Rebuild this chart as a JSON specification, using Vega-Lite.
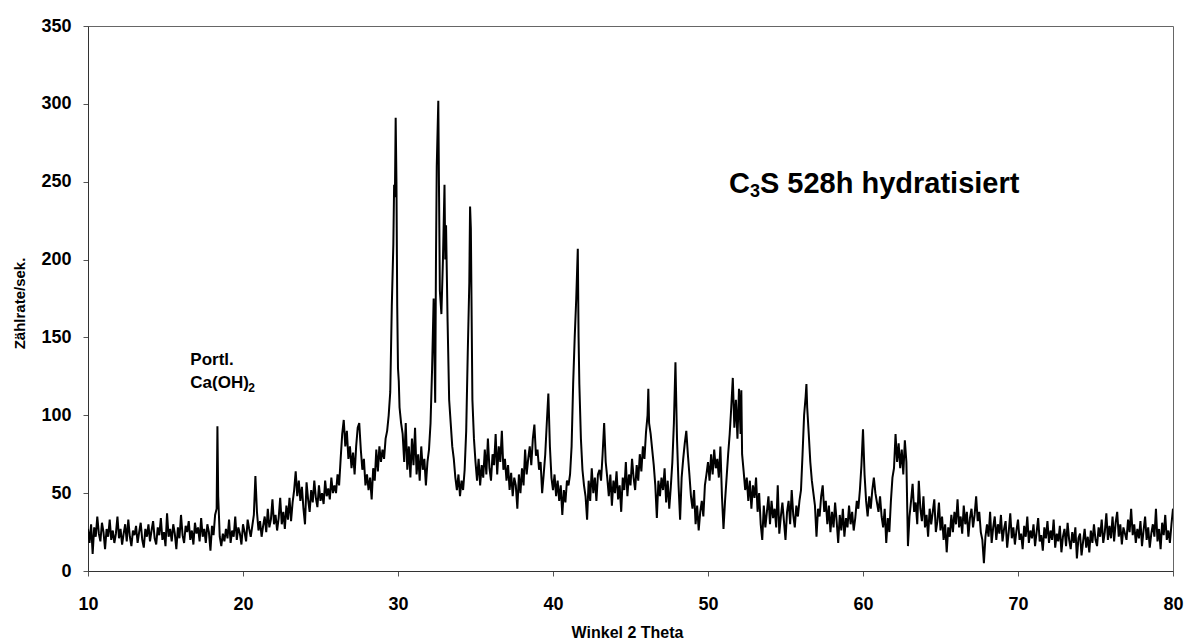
{
"$schema": "https://vega.github.io/schema/vega-lite/v6.json",
"width": 1085,
"height": 545,
"autosize": {"type": "none"},
"padding": {"left": 88, "top": 26, "right": 11, "bottom": 68},
"background": "white",
"config": {
  "view": {"stroke": "#666", "strokeWidth": 1},
  "axis": {"grid": false, "labelFont": "Liberation Sans", "labelFontWeight": "bold", "labelFontSize": 18, "labelColor": "#000", "titleFont": "Liberation Sans", "titleFontWeight": "bold", "titleColor": "#000", "domainColor": "#333", "tickColor": "#555", "tickSize": 5}
},
"layer": [
{
"data": {"values": [
{"x":10.0,"y":27},{"x":10.1,"y":18},{"x":10.2,"y":30},{"x":10.3,"y":11},{"x":10.4,"y":28},{"x":10.5,"y":22},{"x":10.6,"y":35},{"x":10.7,"y":24},{"x":10.8,"y":19},{"x":10.9,"y":31},
{"x":11.0,"y":25},{"x":11.1,"y":14},{"x":11.2,"y":27},{"x":11.3,"y":22},{"x":11.4,"y":33},{"x":11.5,"y":20},{"x":11.6,"y":26},{"x":11.7,"y":18},{"x":11.8,"y":24},{"x":11.9,"y":35},
{"x":12.0,"y":21},{"x":12.1,"y":27},{"x":12.2,"y":17},{"x":12.3,"y":24},{"x":12.4,"y":30},{"x":12.5,"y":19},{"x":12.6,"y":33},{"x":12.7,"y":22},{"x":12.8,"y":16},{"x":12.9,"y":26},
{"x":13.0,"y":23},{"x":13.1,"y":29},{"x":13.2,"y":18},{"x":13.3,"y":25},{"x":13.4,"y":31},{"x":13.5,"y":20},{"x":13.6,"y":15},{"x":13.7,"y":27},{"x":13.8,"y":22},{"x":13.9,"y":30},
{"x":14.0,"y":19},{"x":14.1,"y":26},{"x":14.2,"y":32},{"x":14.3,"y":21},{"x":14.4,"y":17},{"x":14.5,"y":28},{"x":14.6,"y":23},{"x":14.7,"y":34},{"x":14.8,"y":20},{"x":14.9,"y":25},
{"x":15.0,"y":16},{"x":15.1,"y":37},{"x":15.2,"y":22},{"x":15.3,"y":27},{"x":15.4,"y":19},{"x":15.5,"y":30},{"x":15.6,"y":24},{"x":15.7,"y":14},{"x":15.8,"y":28},{"x":15.9,"y":21},
{"x":16.0,"y":36},{"x":16.1,"y":23},{"x":16.2,"y":18},{"x":16.3,"y":29},{"x":16.4,"y":25},{"x":16.5,"y":32},{"x":16.6,"y":20},{"x":16.7,"y":26},{"x":16.8,"y":17},{"x":16.9,"y":31},
{"x":17.0,"y":24},{"x":17.1,"y":28},{"x":17.2,"y":19},{"x":17.3,"y":34},{"x":17.4,"y":22},{"x":17.5,"y":27},{"x":17.6,"y":18},{"x":17.7,"y":30},{"x":17.8,"y":25},{"x":17.9,"y":13},
{"x":18.0,"y":29},{"x":18.1,"y":23},{"x":18.2,"y":36},{"x":18.3,"y":40},{"x":18.35,"y":93},{"x":18.4,"y":48},{"x":18.5,"y":22},{"x":18.6,"y":16},{"x":18.7,"y":24},{"x":18.8,"y":19},{"x":18.9,"y":27},
{"x":19.0,"y":21},{"x":19.1,"y":33},{"x":19.2,"y":18},{"x":19.3,"y":26},{"x":19.4,"y":22},{"x":19.5,"y":35},{"x":19.6,"y":20},{"x":19.7,"y":28},{"x":19.8,"y":24},{"x":19.9,"y":17},
{"x":20.0,"y":30},{"x":20.1,"y":25},{"x":20.2,"y":19},{"x":20.3,"y":33},{"x":20.4,"y":27},{"x":20.5,"y":22},{"x":20.6,"y":29},{"x":20.7,"y":36},{"x":20.8,"y":61},{"x":20.9,"y":38},
{"x":21.0,"y":26},{"x":21.1,"y":32},{"x":21.2,"y":22},{"x":21.3,"y":29},{"x":21.4,"y":35},{"x":21.5,"y":25},{"x":21.6,"y":40},{"x":21.7,"y":28},{"x":21.8,"y":33},{"x":21.9,"y":46},
{"x":22.0,"y":30},{"x":22.1,"y":36},{"x":22.2,"y":26},{"x":22.3,"y":34},{"x":22.4,"y":47},{"x":22.5,"y":30},{"x":22.6,"y":38},{"x":22.7,"y":27},{"x":22.8,"y":42},{"x":22.9,"y":33},
{"x":23.0,"y":47},{"x":23.1,"y":32},{"x":23.2,"y":44},{"x":23.3,"y":52},{"x":23.4,"y":64},{"x":23.5,"y":48},{"x":23.6,"y":58},{"x":23.7,"y":45},{"x":23.8,"y":54},{"x":23.9,"y":40},
{"x":24.0,"y":30},{"x":24.1,"y":57},{"x":24.2,"y":46},{"x":24.3,"y":38},{"x":24.4,"y":52},{"x":24.5,"y":44},{"x":24.6,"y":58},{"x":24.7,"y":47},{"x":24.8,"y":41},{"x":24.9,"y":55},
{"x":25.0,"y":45},{"x":25.1,"y":50},{"x":25.2,"y":43},{"x":25.3,"y":58},{"x":25.4,"y":48},{"x":25.5,"y":53},{"x":25.6,"y":46},{"x":25.7,"y":60},{"x":25.8,"y":50},{"x":25.9,"y":55},
{"x":26.0,"y":50},{"x":26.1,"y":62},{"x":26.2,"y":55},{"x":26.3,"y":72},{"x":26.4,"y":88},{"x":26.5,"y":97},{"x":26.6,"y":80},{"x":26.7,"y":90},{"x":26.8,"y":72},{"x":26.9,"y":80},
{"x":27.0,"y":66},{"x":27.1,"y":76},{"x":27.2,"y":62},{"x":27.3,"y":80},{"x":27.4,"y":92},{"x":27.5,"y":95},{"x":27.6,"y":78},{"x":27.7,"y":65},{"x":27.8,"y":72},{"x":27.9,"y":55},
{"x":28.0,"y":62},{"x":28.1,"y":52},{"x":28.2,"y":60},{"x":28.3,"y":46},{"x":28.4,"y":66},{"x":28.5,"y":58},{"x":28.6,"y":78},{"x":28.7,"y":64},{"x":28.8,"y":80},{"x":28.9,"y":70},
{"x":29.0,"y":78},{"x":29.1,"y":72},{"x":29.2,"y":85},{"x":29.3,"y":90},{"x":29.4,"y":100},{"x":29.5,"y":115},{"x":29.6,"y":170},{"x":29.7,"y":210},{"x":29.75,"y":248},{"x":29.8,"y":240},{"x":29.85,"y":291},{"x":29.9,"y":250},{"x":29.95,"y":170},
{"x":30.0,"y":130},{"x":30.05,"y":122},{"x":30.1,"y":105},{"x":30.2,"y":95},{"x":30.3,"y":88},{"x":30.4,"y":70},{"x":30.5,"y":95},{"x":30.6,"y":65},{"x":30.7,"y":80},{"x":30.8,"y":60},{"x":30.9,"y":85},
{"x":31.0,"y":68},{"x":31.1,"y":92},{"x":31.2,"y":62},{"x":31.3,"y":75},{"x":31.4,"y":58},{"x":31.5,"y":80},{"x":31.6,"y":65},{"x":31.7,"y":72},{"x":31.8,"y":55},{"x":31.9,"y":70},
{"x":32.0,"y":78},{"x":32.1,"y":95},{"x":32.2,"y":130},{"x":32.3,"y":175},{"x":32.4,"y":108},{"x":32.45,"y":200},{"x":32.5,"y":260},{"x":32.6,"y":302},{"x":32.65,"y":240},{"x":32.7,"y":180},{"x":32.8,"y":165},{"x":32.9,"y":200},
{"x":33.0,"y":248},{"x":33.05,"y":200},{"x":33.1,"y":222},{"x":33.2,"y":160},{"x":33.3,"y":110},{"x":33.4,"y":95},{"x":33.5,"y":80},{"x":33.6,"y":72},{"x":33.7,"y":60},{"x":33.8,"y":52},{"x":33.9,"y":62},
{"x":34.0,"y":48},{"x":34.1,"y":58},{"x":34.2,"y":52},{"x":34.3,"y":65},{"x":34.4,"y":90},{"x":34.5,"y":140},{"x":34.6,"y":185},{"x":34.65,"y":234},{"x":34.7,"y":220},{"x":34.8,"y":110},{"x":34.9,"y":85},
{"x":35.0,"y":70},{"x":35.1,"y":58},{"x":35.2,"y":72},{"x":35.3,"y":55},{"x":35.4,"y":68},{"x":35.5,"y":60},{"x":35.6,"y":78},{"x":35.7,"y":62},{"x":35.8,"y":85},{"x":35.9,"y":66},
{"x":36.0,"y":58},{"x":36.1,"y":75},{"x":36.2,"y":68},{"x":36.3,"y":88},{"x":36.4,"y":62},{"x":36.5,"y":80},{"x":36.6,"y":70},{"x":36.7,"y":90},{"x":36.8,"y":65},{"x":36.9,"y":72},
{"x":37.0,"y":58},{"x":37.1,"y":68},{"x":37.2,"y":52},{"x":37.3,"y":63},{"x":37.4,"y":48},{"x":37.5,"y":60},{"x":37.6,"y":55},{"x":37.7,"y":40},{"x":37.8,"y":62},{"x":37.9,"y":50},
{"x":38.0,"y":66},{"x":38.1,"y":55},{"x":38.2,"y":78},{"x":38.3,"y":62},{"x":38.4,"y":72},{"x":38.5,"y":80},{"x":38.6,"y":68},{"x":38.7,"y":85},{"x":38.8,"y":94},{"x":38.9,"y":74},
{"x":39.0,"y":78},{"x":39.1,"y":65},{"x":39.2,"y":70},{"x":39.3,"y":50},{"x":39.4,"y":62},{"x":39.5,"y":75},{"x":39.6,"y":95},{"x":39.7,"y":114},{"x":39.8,"y":80},{"x":39.9,"y":60},
{"x":40.0,"y":52},{"x":40.1,"y":62},{"x":40.2,"y":48},{"x":40.3,"y":58},{"x":40.4,"y":45},{"x":40.5,"y":55},{"x":40.6,"y":36},{"x":40.7,"y":52},{"x":40.8,"y":44},{"x":40.9,"y":58},
{"x":41.0,"y":55},{"x":41.1,"y":62},{"x":41.2,"y":80},{"x":41.3,"y":120},{"x":41.4,"y":150},{"x":41.5,"y":175},{"x":41.6,"y":207},{"x":41.65,"y":150},{"x":41.7,"y":120},{"x":41.8,"y":85},{"x":41.9,"y":65},
{"x":42.0,"y":55},{"x":42.1,"y":48},{"x":42.2,"y":33},{"x":42.3,"y":58},{"x":42.4,"y":45},{"x":42.5,"y":66},{"x":42.6,"y":50},{"x":42.7,"y":60},{"x":42.8,"y":45},{"x":42.9,"y":62},
{"x":43.0,"y":65},{"x":43.1,"y":58},{"x":43.2,"y":75},{"x":43.3,"y":95},{"x":43.4,"y":70},{"x":43.5,"y":60},{"x":43.6,"y":48},{"x":43.7,"y":62},{"x":43.8,"y":42},{"x":43.9,"y":58},
{"x":44.0,"y":50},{"x":44.1,"y":64},{"x":44.2,"y":46},{"x":44.3,"y":55},{"x":44.4,"y":38},{"x":44.5,"y":60},{"x":44.6,"y":52},{"x":44.7,"y":70},{"x":44.8,"y":48},{"x":44.9,"y":62},
{"x":45.0,"y":55},{"x":45.1,"y":72},{"x":45.2,"y":60},{"x":45.3,"y":52},{"x":45.4,"y":68},{"x":45.5,"y":58},{"x":45.6,"y":75},{"x":45.7,"y":64},{"x":45.8,"y":80},{"x":45.9,"y":72},
{"x":46.0,"y":89},{"x":46.1,"y":100},{"x":46.15,"y":117},{"x":46.2,"y":95},{"x":46.3,"y":88},{"x":46.4,"y":78},{"x":46.5,"y":68},{"x":46.6,"y":55},{"x":46.7,"y":34},{"x":46.8,"y":58},{"x":46.9,"y":48},
{"x":47.0,"y":60},{"x":47.1,"y":52},{"x":47.2,"y":66},{"x":47.3,"y":44},{"x":47.4,"y":58},{"x":47.5,"y":40},{"x":47.6,"y":54},{"x":47.7,"y":70},{"x":47.8,"y":95},{"x":47.9,"y":134},
{"x":48.0,"y":85},{"x":48.1,"y":55},{"x":48.2,"y":33},{"x":48.3,"y":60},{"x":48.4,"y":72},{"x":48.5,"y":82},{"x":48.6,"y":90},{"x":48.7,"y":75},{"x":48.8,"y":62},{"x":48.9,"y":48},
{"x":49.0,"y":40},{"x":49.1,"y":52},{"x":49.2,"y":30},{"x":49.3,"y":42},{"x":49.4,"y":26},{"x":49.5,"y":38},{"x":49.6,"y":45},{"x":49.7,"y":35},{"x":49.8,"y":55},{"x":49.9,"y":62},
{"x":50.0,"y":70},{"x":50.1,"y":58},{"x":50.2,"y":75},{"x":50.3,"y":62},{"x":50.4,"y":78},{"x":50.5,"y":66},{"x":50.6,"y":72},{"x":50.7,"y":60},{"x":50.8,"y":80},{"x":50.9,"y":48},
{"x":51.0,"y":27},{"x":51.1,"y":45},{"x":51.2,"y":60},{"x":51.3,"y":75},{"x":51.4,"y":88},{"x":51.5,"y":105},{"x":51.6,"y":124},{"x":51.7,"y":92},{"x":51.8,"y":110},{"x":51.9,"y":85},
{"x":52.0,"y":117},{"x":52.1,"y":88},{"x":52.15,"y":116},{"x":52.2,"y":75},{"x":52.3,"y":64},{"x":52.4,"y":52},{"x":52.5,"y":60},{"x":52.6,"y":45},{"x":52.7,"y":58},{"x":52.8,"y":40},{"x":52.9,"y":55},
{"x":53.0,"y":47},{"x":53.1,"y":60},{"x":53.2,"y":38},{"x":53.3,"y":50},{"x":53.4,"y":30},{"x":53.5,"y":20},{"x":53.6,"y":42},{"x":53.7,"y":28},{"x":53.8,"y":38},{"x":53.9,"y":48},
{"x":54.0,"y":30},{"x":54.1,"y":45},{"x":54.2,"y":34},{"x":54.3,"y":40},{"x":54.4,"y":28},{"x":54.5,"y":55},{"x":54.6,"y":24},{"x":54.7,"y":35},{"x":54.8,"y":44},{"x":54.9,"y":32},
{"x":55.0,"y":20},{"x":55.1,"y":38},{"x":55.2,"y":45},{"x":55.3,"y":30},{"x":55.4,"y":52},{"x":55.5,"y":36},{"x":55.6,"y":28},{"x":55.7,"y":42},{"x":55.8,"y":35},{"x":55.9,"y":45},
{"x":56.0,"y":52},{"x":56.1,"y":75},{"x":56.2,"y":100},{"x":56.3,"y":112},{"x":56.35,"y":120},{"x":56.4,"y":105},{"x":56.5,"y":88},{"x":56.6,"y":70},{"x":56.7,"y":58},{"x":56.8,"y":50},{"x":56.9,"y":42},
{"x":57.0,"y":22},{"x":57.1,"y":40},{"x":57.2,"y":35},{"x":57.3,"y":48},{"x":57.4,"y":55},{"x":57.5,"y":38},{"x":57.6,"y":45},{"x":57.7,"y":30},{"x":57.8,"y":42},{"x":57.9,"y":25},
{"x":58.0,"y":38},{"x":58.1,"y":28},{"x":58.2,"y":44},{"x":58.3,"y":32},{"x":58.4,"y":18},{"x":58.5,"y":36},{"x":58.6,"y":26},{"x":58.7,"y":40},{"x":58.8,"y":22},{"x":58.9,"y":34},
{"x":59.0,"y":28},{"x":59.1,"y":42},{"x":59.2,"y":30},{"x":59.3,"y":38},{"x":59.4,"y":26},{"x":59.5,"y":34},{"x":59.6,"y":45},{"x":59.7,"y":40},{"x":59.8,"y":52},{"x":59.9,"y":68},
{"x":60.0,"y":91},{"x":60.1,"y":62},{"x":60.2,"y":45},{"x":60.3,"y":35},{"x":60.4,"y":48},{"x":60.5,"y":40},{"x":60.6,"y":52},{"x":60.7,"y":60},{"x":60.8,"y":50},{"x":60.9,"y":44},
{"x":61.0,"y":38},{"x":61.1,"y":48},{"x":61.2,"y":35},{"x":61.3,"y":28},{"x":61.4,"y":40},{"x":61.5,"y":18},{"x":61.6,"y":34},{"x":61.7,"y":25},{"x":61.8,"y":45},{"x":61.9,"y":60},
{"x":62.0,"y":66},{"x":62.1,"y":88},{"x":62.2,"y":70},{"x":62.3,"y":82},{"x":62.4,"y":66},{"x":62.5,"y":78},{"x":62.6,"y":62},{"x":62.7,"y":84},{"x":62.8,"y":70},{"x":62.9,"y":16},
{"x":63.0,"y":35},{"x":63.1,"y":45},{"x":63.2,"y":56},{"x":63.3,"y":38},{"x":63.4,"y":44},{"x":63.5,"y":30},{"x":63.6,"y":58},{"x":63.7,"y":40},{"x":63.8,"y":32},{"x":63.9,"y":48},
{"x":64.0,"y":28},{"x":64.1,"y":36},{"x":64.2,"y":22},{"x":64.3,"y":40},{"x":64.4,"y":30},{"x":64.5,"y":38},{"x":64.6,"y":46},{"x":64.7,"y":25},{"x":64.8,"y":32},{"x":64.9,"y":44},
{"x":65.0,"y":26},{"x":65.1,"y":35},{"x":65.2,"y":20},{"x":65.3,"y":30},{"x":65.4,"y":12},{"x":65.5,"y":28},{"x":65.6,"y":22},{"x":65.7,"y":36},{"x":65.8,"y":25},{"x":65.9,"y":38},
{"x":66.0,"y":30},{"x":66.1,"y":46},{"x":66.2,"y":28},{"x":66.3,"y":35},{"x":66.4,"y":24},{"x":66.5,"y":42},{"x":66.6,"y":30},{"x":66.7,"y":38},{"x":66.8,"y":22},{"x":66.9,"y":34},
{"x":67.0,"y":40},{"x":67.1,"y":28},{"x":67.2,"y":36},{"x":67.3,"y":48},{"x":67.4,"y":32},{"x":67.5,"y":38},{"x":67.6,"y":25},{"x":67.7,"y":20},{"x":67.8,"y":5},{"x":67.9,"y":22},
{"x":68.0,"y":30},{"x":68.1,"y":22},{"x":68.2,"y":38},{"x":68.3,"y":18},{"x":68.4,"y":28},{"x":68.5,"y":35},{"x":68.6,"y":20},{"x":68.7,"y":30},{"x":68.8,"y":24},{"x":68.9,"y":36},
{"x":69.0,"y":19},{"x":69.1,"y":27},{"x":69.2,"y":32},{"x":69.3,"y":15},{"x":69.4,"y":25},{"x":69.5,"y":37},{"x":69.6,"y":21},{"x":69.7,"y":28},{"x":69.8,"y":17},{"x":69.9,"y":26},
{"x":70.0,"y":33},{"x":70.1,"y":20},{"x":70.2,"y":24},{"x":70.3,"y":14},{"x":70.4,"y":29},{"x":70.5,"y":22},{"x":70.6,"y":35},{"x":70.7,"y":18},{"x":70.8,"y":26},{"x":70.9,"y":21},
{"x":71.0,"y":30},{"x":71.1,"y":16},{"x":71.2,"y":25},{"x":71.3,"y":34},{"x":71.4,"y":19},{"x":71.5,"y":23},{"x":71.6,"y":13},{"x":71.7,"y":28},{"x":71.8,"y":21},{"x":71.9,"y":32},
{"x":72.0,"y":18},{"x":72.1,"y":26},{"x":72.2,"y":20},{"x":72.3,"y":33},{"x":72.4,"y":15},{"x":72.5,"y":24},{"x":72.6,"y":19},{"x":72.7,"y":29},{"x":72.8,"y":12},{"x":72.9,"y":22},
{"x":73.0,"y":27},{"x":73.1,"y":16},{"x":73.2,"y":31},{"x":73.3,"y":20},{"x":73.4,"y":14},{"x":73.5,"y":25},{"x":73.6,"y":18},{"x":73.7,"y":28},{"x":73.8,"y":8},{"x":73.9,"y":21},
{"x":74.0,"y":24},{"x":74.1,"y":10},{"x":74.2,"y":19},{"x":74.3,"y":27},{"x":74.4,"y":15},{"x":74.5,"y":22},{"x":74.6,"y":12},{"x":74.7,"y":26},{"x":74.8,"y":18},{"x":74.9,"y":30},
{"x":75.0,"y":20},{"x":75.1,"y":16},{"x":75.2,"y":28},{"x":75.3,"y":22},{"x":75.4,"y":33},{"x":75.5,"y":18},{"x":75.6,"y":25},{"x":75.7,"y":37},{"x":75.8,"y":20},{"x":75.9,"y":29},
{"x":76.0,"y":21},{"x":76.1,"y":35},{"x":76.2,"y":19},{"x":76.3,"y":31},{"x":76.4,"y":38},{"x":76.5,"y":22},{"x":76.6,"y":30},{"x":76.7,"y":17},{"x":76.8,"y":28},{"x":76.9,"y":24},
{"x":77.0,"y":20},{"x":77.1,"y":33},{"x":77.2,"y":25},{"x":77.3,"y":40},{"x":77.4,"y":23},{"x":77.5,"y":30},{"x":77.6,"y":18},{"x":77.7,"y":27},{"x":77.8,"y":21},{"x":77.9,"y":32},
{"x":78.0,"y":16},{"x":78.1,"y":26},{"x":78.2,"y":35},{"x":78.3,"y":20},{"x":78.4,"y":28},{"x":78.5,"y":15},{"x":78.6,"y":24},{"x":78.7,"y":30},{"x":78.8,"y":22},{"x":78.9,"y":40},
{"x":79.0,"y":19},{"x":79.1,"y":27},{"x":79.2,"y":14},{"x":79.3,"y":31},{"x":79.4,"y":23},{"x":79.5,"y":36},{"x":79.6,"y":20},{"x":79.7,"y":26},{"x":79.8,"y":18},{"x":79.9,"y":30},{"x":80.0,"y":40}
]},
"mark": {"type": "line", "color": "#000", "strokeWidth": 2, "clip": true},
"encoding": {
  "x": {"field": "x", "type": "quantitative", "scale": {"domain": [10, 80], "nice": false},
        "axis": {"values": [10,20,30,40,50,60,70,80], "title": "Winkel 2 Theta", "titleFontSize": 16, "titleX": 539, "titleY": 66, "titleBaseline": "alphabetic", "titleAlign": "center", "labelPadding": 19, "labelFlush": false}},
  "y": {"field": "y", "type": "quantitative", "scale": {"domain": [0, 350], "nice": false},
        "axis": {"values": [0,50,100,150,200,250,300,350], "title": "Zählrate/sek.", "titleFontSize": 15, "titleX": -69, "titleY": 277, "titleAngle": -90, "titleAlign": "center", "titleBaseline": "middle", "labelPadding": 12}}
}
},
{
"data": {"values": [{}]},
"mark": {"type": "text", "font": "Liberation Sans", "fontWeight": "bold", "fontSize": 29, "align": "left", "baseline": "alphabetic", "color": "#000"},
"encoding": {"x": {"datum": 51.35}, "y": {"datum": 243}, "text": {"value": "C"}}
},
{
"data": {"values": [{}]},
"mark": {"type": "text", "font": "Liberation Sans", "fontWeight": "bold", "fontSize": 18, "align": "left", "baseline": "alphabetic", "color": "#000", "dx": 21, "dy": 4},
"encoding": {"x": {"datum": 51.35}, "y": {"datum": 243}, "text": {"value": "3"}}
},
{
"data": {"values": [{}]},
"mark": {"type": "text", "font": "Liberation Sans", "fontWeight": "bold", "fontSize": 29, "align": "left", "baseline": "alphabetic", "color": "#000", "dx": 31},
"encoding": {"x": {"datum": 51.35}, "y": {"datum": 243}, "text": {"value": "S 528h hydratisiert"}}
},
{
"data": {"values": [{}]},
"mark": {"type": "text", "font": "Liberation Sans", "fontWeight": "bold", "fontSize": 17, "align": "left", "baseline": "alphabetic", "color": "#000"},
"encoding": {"x": {"datum": 16.6}, "y": {"datum": 132}, "text": {"value": "Portl."}}
},
{
"data": {"values": [{}]},
"mark": {"type": "text", "font": "Liberation Sans", "fontWeight": "bold", "fontSize": 17, "align": "left", "baseline": "alphabetic", "color": "#000"},
"encoding": {"x": {"datum": 16.6}, "y": {"datum": 117.5}, "text": {"value": "Ca(OH)"}}
},
{
"data": {"values": [{}]},
"mark": {"type": "text", "font": "Liberation Sans", "fontWeight": "bold", "fontSize": 12, "align": "left", "baseline": "alphabetic", "color": "#000", "dx": 58, "dy": 4},
"encoding": {"x": {"datum": 16.6}, "y": {"datum": 117.5}, "text": {"value": "2"}}
}
]
}
